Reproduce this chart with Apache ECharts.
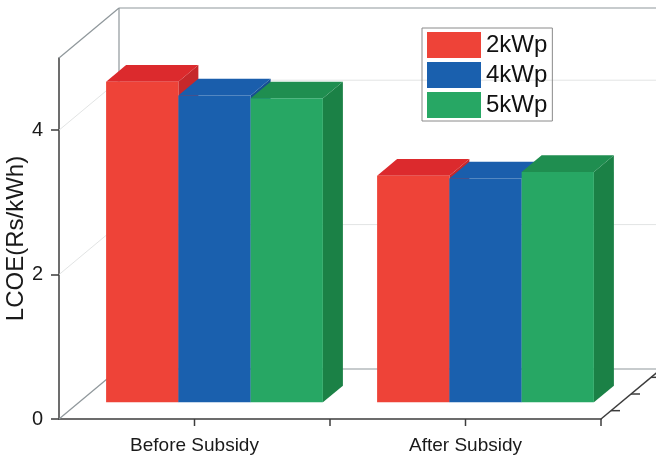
<!DOCTYPE html>
<html>
<head>
<meta charset="utf-8">
<script src="https://cdn.jsdelivr.net/npm/echarts@6/dist/echarts.min.js"></script>
<style>
  html, body { margin: 0; padding: 0; background: #ffffff; }
  #chart { width: 656px; height: 459px; }
</style>
</head>
<body>
<div id="chart"></div>
<script>
// LCOE (Rs/kWh) for rooftop PV sizes, before and after subsidy
const categories = ['Before Subsidy', 'After Subsidy'];
const seriesNames = ['2kWp', '4kWp', '5kWp'];
const lcoe2kWp = [4.44, 3.14];
const lcoe4kWp = [4.25, 3.10];
const lcoe5kWp = [4.21, 3.19];
const yTicks = [0, 2, 4];
const yMax = 5;

const seriesValues = [lcoe2kWp, lcoe4kWp, lcoe5kWp];

// face colours of each 3D column: front, top, right side
const palettes = [
  { front: '#EE4338', top: '#DC2A2D', side: '#C6282B' },
  { front: '#1A60AE', top: '#1A5EAC', side: '#164E92' },
  { front: '#27A764', top: '#1F8E50', side: '#1B8146' }
];

// pseudo-3D box: full depth offset in pixels, and the slab the columns occupy
const DEPTH = [60, -50];
const BAR_SLAB = [1 / 3, 2 / 3];
const GROUP_FRACTION = 0.8;
const FONT = '"Liberation Sans", Arial, sans-serif';

function shift(p, t) {
  return [p[0] + DEPTH[0] * t, p[1] + DEPTH[1] * t];
}

// walls, gridlines and depth-axis ticks of the box
function renderFrame(params, api) {
  const band = api.size([1, 0])[0];
  const o = api.coord([0, 0]);
  const left = o[0] - band / 2;
  const right = api.coord([categories.length - 1, 0])[0] + band / 2;
  const bottom = o[1];
  const top = api.coord([0, yMax])[1];
  const edge = { stroke: '#8f979b', lineWidth: 1.2, fill: null };
  const dark = { stroke: '#3c3c3c', lineWidth: 1.5, fill: null };
  const grid = { stroke: '#e2e4e4', lineWidth: 1, fill: null };
  const children = [];
  const line = (a, b, style) => children.push({
    type: 'line', shape: { x1: a[0], y1: a[1], x2: b[0], y2: b[1] }, style: style
  });

  yTicks.forEach(function (v) {
    if (v === 0) return;
    const y = api.coord([0, v])[1];
    const p0 = [left, y];
    const p1 = shift(p0, 1);
    line(p0, p1, grid);
    line(p1, [shift([right, y], 1)[0], p1[1]], grid);
  });

  const tl = [left, top], bl = [left, bottom], br = [right, bottom];
  line(tl, shift(tl, 1), edge);
  line(shift(tl, 1), shift(bl, 1), edge);
  line(shift(tl, 1), [shift([right, top], 1)[0], shift(tl, 1)[1]], edge);
  line(bl, shift(bl, 1), edge);
  line(shift(bl, 1), shift(br, 1), edge);
  line(br, shift(br, 1), dark);

  // ticks along the depth axis
  [1 / 6, 1 / 2, 5 / 6].forEach(function (t) {
    const p = shift(br, t);
    line(p, [p[0] + 9, p[1]], dark);
  });

  // category ticks: centres and boundaries
  for (let i = 0; i < categories.length; i++) {
    const cx = api.coord([i, 0])[0];
    line([cx, bottom], [cx, bottom + 7], dark);
    line([cx + band / 2, bottom], [cx + band / 2, bottom + 7], dark);
  }
  return { type: 'group', children: children };
}

function columnRenderer(si) {
  return function (params, api) {
    const cat = api.value(0);
    const val = api.value(1);
    const base = api.coord([cat, 0]);
    const peak = api.coord([cat, val]);
    const band = api.size([1, 0])[0];
    const barW = band * GROUP_FRACTION / seriesNames.length;
    const x0 = base[0] - band * GROUP_FRACTION / 2 + si * barW;
    const x1 = x0 + barW;
    const c = palettes[si];
    const fTL = shift([x0, peak[1]], BAR_SLAB[0]);
    const fTR = shift([x1, peak[1]], BAR_SLAB[0]);
    const fBR = shift([x1, base[1]], BAR_SLAB[0]);
    const bTL = shift([x0, peak[1]], BAR_SLAB[1]);
    const bTR = shift([x1, peak[1]], BAR_SLAB[1]);
    const bBR = shift([x1, base[1]], BAR_SLAB[1]);
    return {
      type: 'group',
      children: [
        { type: 'polygon', shape: { points: [fTR, bTR, bBR, fBR] }, style: { fill: c.side } },
        { type: 'polygon', shape: { points: [fTL, fTR, bTR, bTL] }, style: { fill: c.top } },
        { type: 'rect', shape: { x: fTL[0], y: fTL[1], width: barW, height: base[1] - peak[1] }, style: { fill: c.front } }
      ]
    };
  };
}

const chart = echarts.init(document.getElementById('chart'), null, { renderer: 'canvas' });

const series = [{
  name: 'frame',
  type: 'custom',
  silent: true,
  z: 1,
  renderItem: renderFrame,
  data: [[0, 0]]
}];
seriesNames.forEach(function (name, si) {
  series.push({
    name: name,
    type: 'custom',
    z: 3,
    itemStyle: { color: palettes[si].front },
    renderItem: columnRenderer(si),
    data: seriesValues[si].map(function (v, i) { return [i, v]; })
  });
});

chart.setOption({
  animation: false,
  backgroundColor: '#ffffff',
  grid: { left: 59, right: 55, top: 58, bottom: 40, containLabel: false, outerBoundsMode: 'none' },
  legend: {
    data: seriesNames.map(function (n) { return { name: n, icon: 'rect' }; }),
    orient: 'vertical',
    left: 422,
    top: 28,
    itemWidth: 54,
    itemHeight: 26,
    itemGap: 4,
    padding: [4, 5, 3, 5],
    borderColor: '#8a8a8a',
    borderWidth: 1,
    textStyle: { fontSize: 24, color: '#111111', fontFamily: FONT }
  },
  xAxis: {
    type: 'category',
    data: categories,
    axisLine: { lineStyle: { color: '#3c3c3c', width: 1.5 } },
    axisTick: { show: false },
    axisLabel: { fontSize: 19, margin: 17, color: '#1a1a1a', fontFamily: FONT }
  },
  yAxis: {
    type: 'value',
    min: 0,
    max: yMax,
    name: 'LCOE(Rs/kWh)',
    nameLocation: 'middle',
    nameRotate: 90,
    nameGap: 31,
    nameMoveOverlap: false,
    nameTextStyle: { fontSize: 24, color: '#1a1a1a', fontFamily: FONT },
    axisLine: { show: true, lineStyle: { color: '#3c3c3c', width: 1.5 } },
    axisTick: { show: true, length: 8, customValues: yTicks, lineStyle: { color: '#3c3c3c', width: 1.5 } },
    axisLabel: { fontSize: 20, margin: 16, color: '#1a1a1a', fontFamily: FONT, customValues: yTicks },
    splitLine: { show: false }
  },
  series: series
});
</script>
</body>
</html>
